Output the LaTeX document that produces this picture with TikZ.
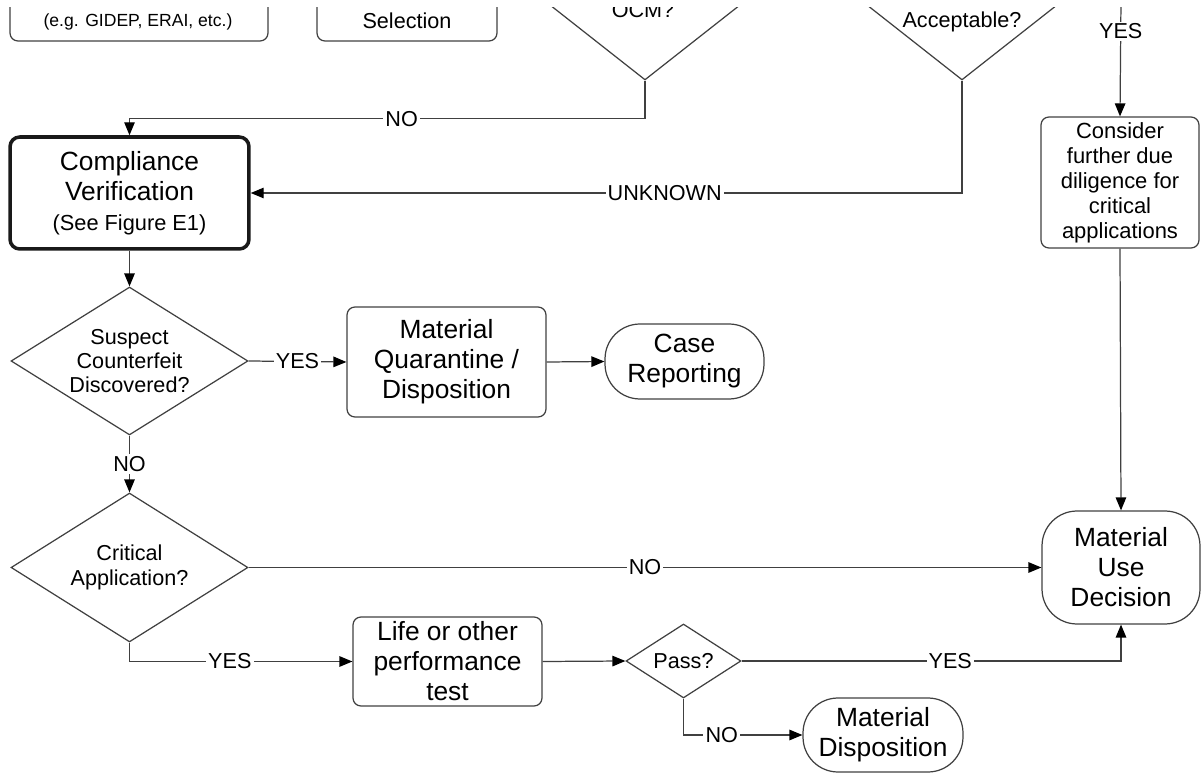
\documentclass[tikz,border=0pt]{standalone}
\usepackage{fontspec}
\setmainfont{Liberation Sans}
\usetikzlibrary{shapes.geometric,arrows.meta}

\begin{document}
\begin{tikzpicture}[x=0.02cm, y=-0.02cm,
    line/.style={draw=black!75, line width=0.7pt},
    arr/.style={line, -{Triangle[length=2.6mm,width=2.1mm,fill=black,color=black]}},
    big/.style={font=\fontsize{15}{17.1}\selectfont},
    mid/.style={font=\fontsize{12.3}{13.8}\selectfont},
    proc/.style={line, rounded corners=4.5pt, align=center, inner sep=0pt, big},
    decision/.style={line, diamond, aspect=1.6, inner sep=0pt, align=center, mid},
    term/.style={line, rounded corners=0.7cm, align=center, inner sep=0pt, big},
    lbl/.style={fill=white, inner sep=1.2pt, mid}]
    \useasboundingbox (0,0) rectangle (1201,773);
    \clip (0,8) rectangle (1201,773);

    % top row, cut off by the page edge
    \node[proc, minimum width=5.16cm, minimum height=1.22cm] (source) at (139,10.5) {};
    \node[font=\fontsize{10}{12}\selectfont] (sourcetxt) at (138,22) {(e.g. GIDEP, ERAI, etc.)};
    \node[proc, minimum width=3.6cm, minimum height=1.22cm] (select) at (407,10.5) {};
    \node[mid] (selecttxt) at (407,21) {Selection};
    \node[decision, minimum width=6.1cm, minimum height=4.8cm] (ocm) at (645,-40) {};
    \node[mid] (ocmtxt) at (643,10) {OCM?};
    \node[decision, minimum width=6.1cm, minimum height=4.8cm] (accept) at (962,-40) {};
    \node[mid] (accepttxt) at (962,22) {Acceptable?};
    \coordinate (yestop) at (1121,0);

    % main flow
    \node[proc, draw=black!90, line width=2pt, rounded corners=5.5pt, minimum width=4.78cm, minimum height=2.24cm] (comp) at (129.5,193)
        {Compliance\\Verification\\\fontsize{12.4}{17}\selectfont (See Figure E1)};
    \node[decision, minimum width=4.74cm, minimum height=2.96cm] (suspect) at (129.5,361)
        {Suspect\\Counterfeit\\Discovered?};
    \node[proc, minimum width=3.98cm, minimum height=2.2cm] (quar) at (446.5,362)
        {Material\\Quarantine /\\Disposition};
    \node[term, minimum width=3.18cm, minimum height=1.5cm] (case) at (684.5,361.5) {Case\\Reporting};
    \node[decision, minimum width=4.74cm, minimum height=2.98cm] (crit) at (129.5,567.5)
        {Critical\\Application?};
    \node[proc, minimum width=3.78cm, minimum height=1.78cm] (life) at (447.5,661.5)
        {Life or other\\performance\\test};
    \node[decision, minimum width=2.3cm, minimum height=1.48cm] (pass) at (683.5,661) {Pass?};
    \node[term, minimum width=3.2cm, minimum height=1.48cm] (matdisp) at (883,735) {Material\\Disposition};
    \node[proc, font=\fontsize{12.5}{14.2}\selectfont, minimum width=3.16cm, minimum height=2.62cm] (consider) at (1120,182.5)
        {Consider\\further due\\diligence for\\critical\\applications};
    \node[term, minimum width=3.16cm, minimum height=2.26cm] (usedec) at (1121,567.5)
        {Material\\Use\\Decision};

    % connectors
    \draw[arr] (ocm.south) -- ++(0,38) -| node[lbl, pos=0.236] {NO} (comp.north);
    \draw[arr] (accept.south) |- node[lbl, pos=0.709] {UNKNOWN} (comp.east);
    \draw[arr] (yestop) -- node[lbl, pos=0.27] {YES} (consider.north);
    \draw[arr] (consider.south) -- (usedec.north);
    \draw[arr] (comp.south) -- (suspect.north);
    \draw[arr] (suspect.east) -- node[lbl] {YES} (quar.west);
    \draw[arr] (quar.east) -- (case.west);
    \draw[arr] (suspect.south) -- node[lbl] {NO} (crit.north);
    \draw[arr] (crit.east) -- node[lbl] {NO} (usedec.west);
    \draw[arr] (crit.south) |- node[lbl, pos=0.725] {YES} (life.west);
    \draw[arr] (life.east) -- (pass.west);
    \draw[arr] (pass.east) -| node[lbl, pos=0.275] {YES} (usedec.south);
    \draw[arr] (pass.south) |- node[lbl, pos=0.661] {NO} (matdisp.west);
\end{tikzpicture}
\end{document}
